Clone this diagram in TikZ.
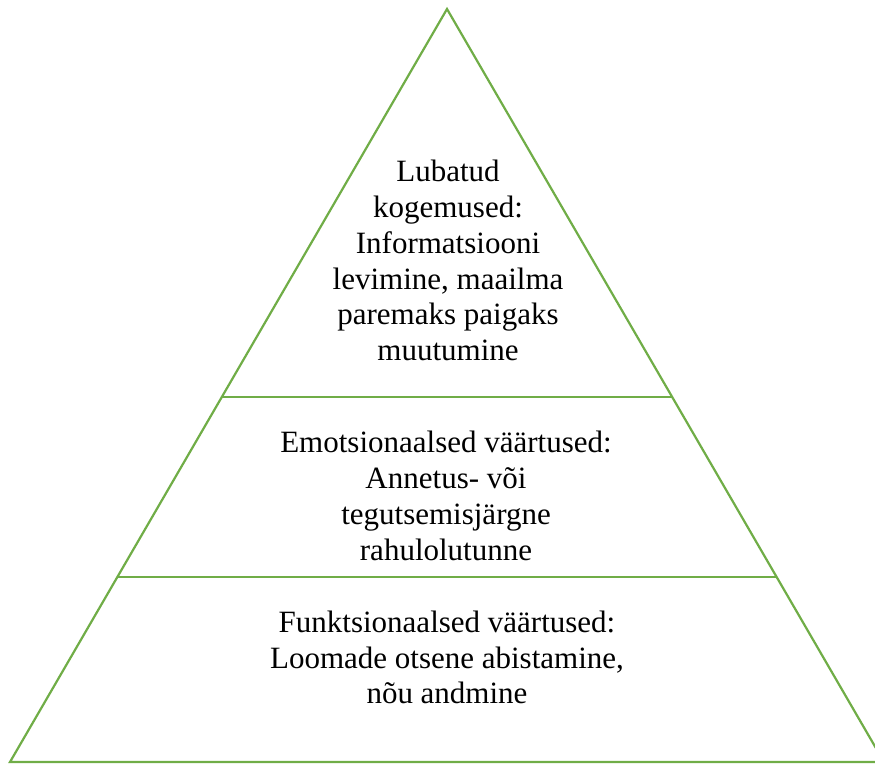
\documentclass[tikz,border=0pt]{standalone}
\usepackage{fontspec}
\setmainfont{Liberation Serif}
\definecolor{pyrgreen}{HTML}{70AD47}
\begin{document}
\begin{tikzpicture}[x=1pt,y=-1pt,
  side/.style={draw=pyrgreen,line width=2.2pt,line join=miter},
  divider/.style={draw=pyrgreen,line width=1.3pt},
  label/.style={align=center,inner sep=0pt,font=\fontsize{31}{35.8}\selectfont}]
\useasboundingbox (0,0) rectangle (875,763);
\clip (0,0) rectangle (875,763);
\coordinate (apex) at (447,9);
\coordinate (bl) at (10,762);
\coordinate (br) at (884,762);
\coordinate (l1) at (222,397);
\coordinate (r1) at (672,397);
\coordinate (l2) at (118,577);
\coordinate (r2) at (776,577);
\draw[side] (bl) -- (apex) -- (br) -- cycle;
\draw[divider] (l1) -- (r1);
\draw[divider] (l2) -- (r2);
\node[label] (top) at (448,260.5) {Lubatud\\kogemused:\\Informatsiooni\\levimine, maailma\\paremaks paigaks\\muutumine};
\node[label] (mid) at (446,496) {Emotsionaalsed väärtused:\\Annetus- või\\tegutsemisjärgne\\rahulolutunne};
\node[label] (bot) at (447,657.5) {Funktsionaalsed väärtused:\\Loomade otsene abistamine,\\nõu andmine};
\end{tikzpicture}
\end{document}
